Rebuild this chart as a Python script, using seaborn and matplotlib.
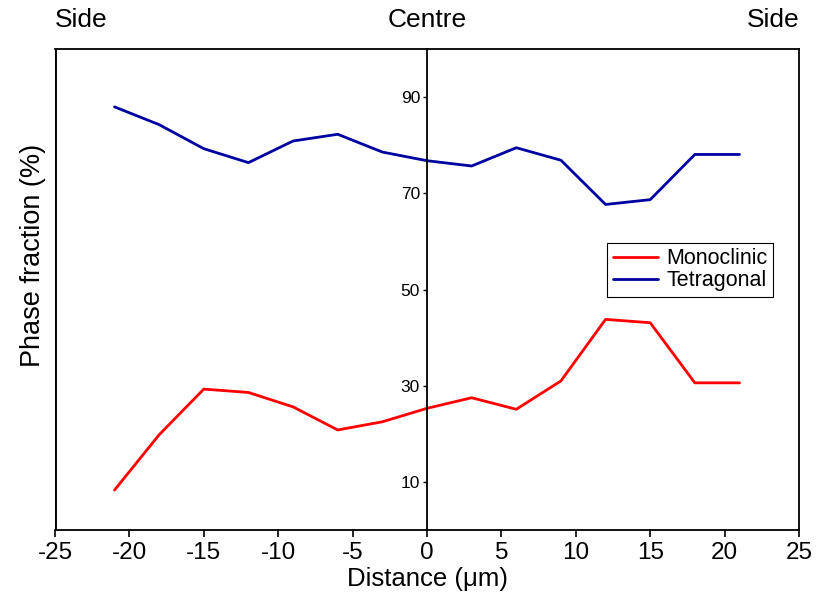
import matplotlib
matplotlib.use("Agg")
import matplotlib.pyplot as plt
import seaborn as sns
import pandas as pd

# Phase fractions across the sample, from one side through the centre to the other
distance = [-21, -18, -15, -12, -9, -6, -3, 0, 3, 6, 9, 12, 15, 18, 21]
monoclinic = [8.3, 19.8, 29.3, 28.6, 25.6, 20.8, 22.5, 25.3, 27.5, 25.1, 31.0, 43.8, 43.1, 30.6, 30.6]
tetragonal = [88.0, 84.3, 79.3, 76.4, 80.9, 82.3, 78.6, 76.8, 75.7, 79.5, 76.9, 67.7, 68.7, 78.1, 78.1]
phase_names = ["Monoclinic", "Tetragonal"]
x_ticks = [-25, -20, -15, -10, -5, 0, 5, 10, 15, 20, 25]
y_ticks = [10, 30, 50, 70, 90]

df = pd.DataFrame({
    "Distance": distance * 2,
    "Fraction": monoclinic + tetragonal,
    "Phase": [phase_names[0]] * len(distance) + [phase_names[1]] * len(distance),
})

sns.set_style("white")
plt.rcParams["font.family"] = ["Liberation Sans", "DejaVu Sans"]
plt.rcParams["text.color"] = "black"
plt.rcParams["axes.labelcolor"] = "black"
plt.rcParams["xtick.color"] = "black"
plt.rcParams["ytick.color"] = "black"

fig = plt.figure(figsize=(8.17, 6.07), dpi=100)
ax = fig.add_axes([0.0673, 0.1269, 0.9107, 0.7921])

sns.lineplot(data=df, x="Distance", y="Fraction", hue="Phase",
             palette={"Monoclinic": "#FF0000", "Tetragonal": "#0000A0"},
             linewidth=2.0, ax=ax, estimator=None, sort=False)

ax.set_xlim(-25, 25)
ax.set_ylim(0, 100)
ax.set_xticks(x_ticks)
ax.set_xticklabels([str(t) for t in x_ticks])
ax.set_yticks(y_ticks)
ax.set_yticklabels([str(t) for t in y_ticks])

# Spines: y axis runs through the centre, box around the plot
spine_lw = 1.3
for s in ax.spines.values():
    s.set_visible(True)
    s.set_color("black")
    s.set_linewidth(spine_lw)
ax.spines["left"].set_position(("data", 0))
ax.axvline(-25, color="black", linewidth=spine_lw * 1.6, clip_on=True, zorder=5)

ax.tick_params(axis="x", direction="out", length=5, width=1.2, labelsize=17.5,
               bottom=True, top=False, pad=4)
ax.tick_params(axis="y", direction="out", length=3, width=1.0, labelsize=12.5,
               left=True, right=False, pad=2)

ax.set_xlabel("Distance (\u03bcm)", fontsize=18.5, labelpad=2)
ax.set_ylabel("Phase fraction (%)", fontsize=19.5, labelpad=0)
ax.yaxis.set_label_coords(-0.012, 0.57)

# Position labels above the frame
ax.text(0.0, 1.035, "Side", transform=ax.transAxes, ha="left", va="bottom", fontsize=19)
ax.text(0.5, 1.035, "Centre", transform=ax.transAxes, ha="center", va="bottom", fontsize=19)
ax.text(1.0, 1.035, "Side", transform=ax.transAxes, ha="right", va="bottom", fontsize=19)

leg = ax.legend(loc="upper right", bbox_to_anchor=(0.965, 0.597), fontsize=15.5,
                frameon=True, fancybox=False, edgecolor="black", framealpha=1,
                handlelength=2.1, borderpad=0.25, labelspacing=0.05,
                handletextpad=0.4, borderaxespad=0)
leg.get_frame().set_linewidth(0.8)
leg.set_title(None)

fig.savefig("out.png", dpi=100)
